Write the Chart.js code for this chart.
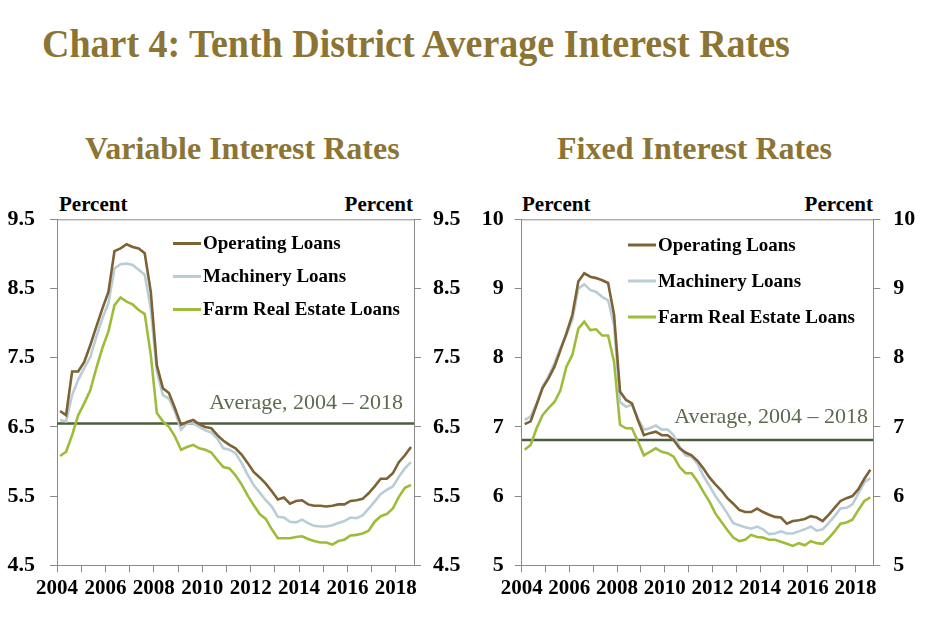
<!DOCTYPE html>
<html>
<head>
<meta charset="utf-8">
<script src="https://cdn.jsdelivr.net/npm/chart.js@4.4.1/dist/chart.umd.min.js"></script>
<style>
  body { margin: 0; background: #fff; width: 925px; height: 641px; position: relative; overflow: hidden; font-family: "Liberation Serif", "Times New Roman", serif; }
  .t { position: absolute; white-space: nowrap; font-weight: bold; }
  #title { left: 42px; top: 24px; font-size: 40px; line-height: 40px; color: #8b7434; transform: scaleX(0.95); transform-origin: left center; }
  .sub { top: 132px; font-size: 32px; line-height: 32px; color: #8b7434; }
  .pct { top: 194px; font-size: 21px; line-height: 21px; color: #000; }
  canvas { position: absolute; top: 190px; }
</style>
</head>
<body>
<div class="t" id="title">Chart 4: Tenth District Average Interest Rates</div>
<div class="t sub" style="left:85px">Variable Interest Rates</div>
<div class="t sub" style="left:557px">Fixed Interest Rates</div>
<div class="t pct" style="left:59px">Percent</div>
<div class="t pct" style="right:512px">Percent</div>
<div class="t pct" style="left:522px">Percent</div>
<div class="t pct" style="right:52px">Percent</div>
<canvas id="chartVar" width="462" height="430" style="left:0"></canvas>
<canvas id="chartFix" width="463" height="430" style="left:462px"></canvas>
<script>
// quarterly, 2004 Q1 - 2018 Q3
const startYear = 2004;
const seriesNames = ['Operating Loans', 'Machinery Loans', 'Farm Real Estate Loans'];
const seriesColors = ['#7d6235', '#b8cdd5', '#9dbd3a'];
const avgLabel = 'Average, 2004 \u2013 2018';

const opVar = [6.73,6.67,7.30,7.30,7.44,7.68,7.95,8.21,8.45,9.04,
  9.08,9.14,9.10,9.08,9.01,8.45,7.39,7.06,6.99,6.77,
  6.53,6.57,6.60,6.54,6.50,6.48,6.38,6.30,6.24,6.19,
  6.10,5.98,5.85,5.77,5.68,5.57,5.45,5.48,5.39,5.43,
  5.44,5.38,5.36,5.36,5.35,5.36,5.38,5.38,5.43,5.44,
  5.46,5.54,5.64,5.75,5.75,5.83,5.99,6.09,6.21];
const machVar = [6.60,6.58,6.96,7.18,7.35,7.51,7.80,8.07,8.29,8.79,
  8.85,8.86,8.84,8.77,8.70,8.21,7.30,6.96,6.91,6.72,
  6.46,6.55,6.55,6.50,6.45,6.42,6.33,6.19,6.17,6.12,
  5.98,5.81,5.66,5.55,5.44,5.35,5.20,5.19,5.13,5.12,
  5.16,5.11,5.07,5.06,5.06,5.08,5.11,5.14,5.19,5.18,
  5.22,5.32,5.42,5.53,5.59,5.64,5.78,5.90,5.99];
const farmVar = [6.08,6.14,6.38,6.67,6.84,7.03,7.35,7.64,7.88,8.26,
  8.37,8.31,8.27,8.19,8.13,7.54,6.70,6.58,6.50,6.36,
  6.17,6.21,6.24,6.19,6.17,6.13,6.02,5.92,5.90,5.80,
  5.67,5.51,5.37,5.24,5.17,5.02,4.89,4.89,4.89,4.91,
  4.92,4.88,4.85,4.83,4.83,4.80,4.85,4.87,4.93,4.94,
  4.96,5.00,5.13,5.21,5.24,5.32,5.49,5.62,5.66];
const avgVar = 6.55;

const opFix = [7.04,7.08,7.32,7.56,7.70,7.87,8.11,8.35,8.62,9.10,
  9.22,9.17,9.15,9.12,9.08,8.62,7.51,7.39,7.34,7.10,
  6.88,6.91,6.93,6.88,6.88,6.81,6.69,6.63,6.59,6.51,
  6.40,6.27,6.17,6.08,5.97,5.89,5.80,5.77,5.77,5.82,
  5.77,5.73,5.70,5.69,5.60,5.64,5.65,5.67,5.71,5.69,
  5.64,5.73,5.83,5.93,5.97,6.00,6.10,6.25,6.38];
const machFix = [7.10,7.15,7.34,7.58,7.73,7.92,8.14,8.33,8.55,9.00,
  9.06,8.98,8.95,8.88,8.83,8.47,7.36,7.29,7.32,7.12,
  6.96,6.98,7.02,6.96,6.96,6.88,6.71,6.59,6.57,6.47,
  6.29,6.15,6.00,5.88,5.75,5.61,5.58,5.55,5.53,5.56,
  5.52,5.45,5.46,5.49,5.46,5.46,5.49,5.52,5.56,5.50,
  5.52,5.61,5.71,5.82,5.83,5.88,6.04,6.20,6.26];
const farmFix = [6.67,6.74,6.98,7.17,7.27,7.36,7.53,7.87,8.04,8.42,
  8.52,8.40,8.41,8.32,8.32,7.94,7.03,6.98,6.98,6.79,
  6.59,6.64,6.69,6.64,6.62,6.57,6.42,6.33,6.33,6.21,
  6.06,5.92,5.75,5.63,5.51,5.40,5.35,5.37,5.44,5.41,
  5.40,5.37,5.37,5.34,5.31,5.28,5.32,5.29,5.35,5.32,
  5.31,5.39,5.49,5.60,5.62,5.66,5.80,5.93,5.98];
const avgFix = 6.81;

const xMax = 2018.75;
const serif = "'Liberation Serif', 'Times New Roman', serif";

// legend, average label and top border drawn on the canvas
const panelDecor = {
  id: 'panelDecor',
  afterDraw(chart, args, o) {
    const ctx = chart.ctx, a = chart.chartArea;
    ctx.save();
    ctx.strokeStyle = '#8a8a8a';
    ctx.lineWidth = 1;
    ctx.beginPath();
    ctx.moveTo(a.left, a.top + 0.5);
    ctx.lineTo(a.right, a.top + 0.5);
    ctx.stroke();

    ctx.font = 'bold 19px ' + serif;
    ctx.textBaseline = 'middle';
    chart.data.datasets.forEach((ds, i) => {
      if (ds.isAvg) return;
      const y = o.legY + i * o.legGap;
      ctx.strokeStyle = ds.borderColor;
      ctx.lineWidth = 3;
      ctx.beginPath();
      ctx.moveTo(o.legX, y);
      ctx.lineTo(o.legX + 28, y);
      ctx.stroke();
      ctx.fillStyle = '#000';
      ctx.fillText(ds.label, o.legX + 30, y + 1);
    });

    const ys = chart.scales.y.getPixelForValue(o.avg);
    ctx.font = '22px ' + serif;
    ctx.fillStyle = '#5b6b4e';
    ctx.textAlign = 'right';
    ctx.textBaseline = 'alphabetic';
    ctx.fillText(avgLabel, o.avgX, ys - o.avgUp);
    ctx.restore();
  }
};

function makePanel(id, vals, avg, yMin, yMax, lay) {
  const datasets = vals.map((v, k) => ({
    label: seriesNames[k],
    data: v.map((y, i) => ({ x: startYear + 0.125 + i * 0.25, y: y })),
    borderColor: seriesColors[k],
    borderWidth: 2.6,
    pointRadius: 0,
    tension: 0
  }));
  datasets.push({
    label: 'avg', isAvg: true,
    data: [{ x: startYear, y: avg }, { x: xMax, y: avg }],
    borderColor: '#4b5e3e', borderWidth: 2.6, pointRadius: 0
  });
  const axisGrid = { display: true, drawOnChartArea: false, drawTicks: true, tickLength: 7, color: '#8a8a8a' };
  const axisBorder = { display: true, color: '#8a8a8a', width: 1 };
  const yTicks = (pad) => ({ stepSize: 1, padding: pad, color: '#000', font: { family: serif, size: 22, weight: 'bold' } });
  new Chart(document.getElementById(id), {
    type: 'line',
    data: { datasets: datasets },
    options: {
      responsive: false,
      animation: false,
      events: [],
      layout: { padding: { top: 29.3, bottom: 0, left: 0, right: 0 } },
      scales: {
        x: {
          type: 'linear', min: startYear, max: xMax,
          grid: axisGrid, border: axisBorder,
          ticks: {
            stepSize: 1, includeBounds: false, autoSkip: false, maxRotation: 0, padding: 4,
            color: '#000', font: { family: serif, size: 21, weight: 'bold' },
            callback: (v) => (v % 2 === 0 ? String(v) : '')
          },
          afterFit: (s) => { s.height = lay.xH; }
        },
        y: {
          position: 'left', min: yMin, max: yMax,
          grid: axisGrid, border: axisBorder, ticks: yTicks(lay.padL),
          afterFit: (s) => { s.width = lay.left; }
        },
        y2: {
          position: 'right', min: yMin, max: yMax,
          grid: axisGrid, border: axisBorder, ticks: yTicks(lay.padR),
          afterFit: (s) => { s.width = lay.right; }
        }
      },
      plugins: {
        legend: { display: false },
        tooltip: { enabled: false },
        panelDecor: { legX: lay.legX, legY: lay.legY, legGap: lay.legGap, avg: avg, avgX: lay.avgX, avgUp: lay.avgUp }
      }
    },
    plugins: [panelDecor]
  });
}

makePanel('chartVar', [opVar, machVar, farmVar], avgVar, 4.5, 9.5,
  { left: 57, right: 48, xH: 54.7, padL: 15, padR: 12, legX: 173, legY: 53.5, legGap: 33, avgX: 403, avgUp: 14 });
makePanel('chartFix', [opFix, machFix, farmFix], avgFix, 5, 10,
  { left: 59.7, right: 51.7, xH: 54.7, padL: 11, padR: 13, legX: 166, legY: 55, legGap: 36, avgX: 406, avgUp: 17 });
</script>
</body>
</html>
